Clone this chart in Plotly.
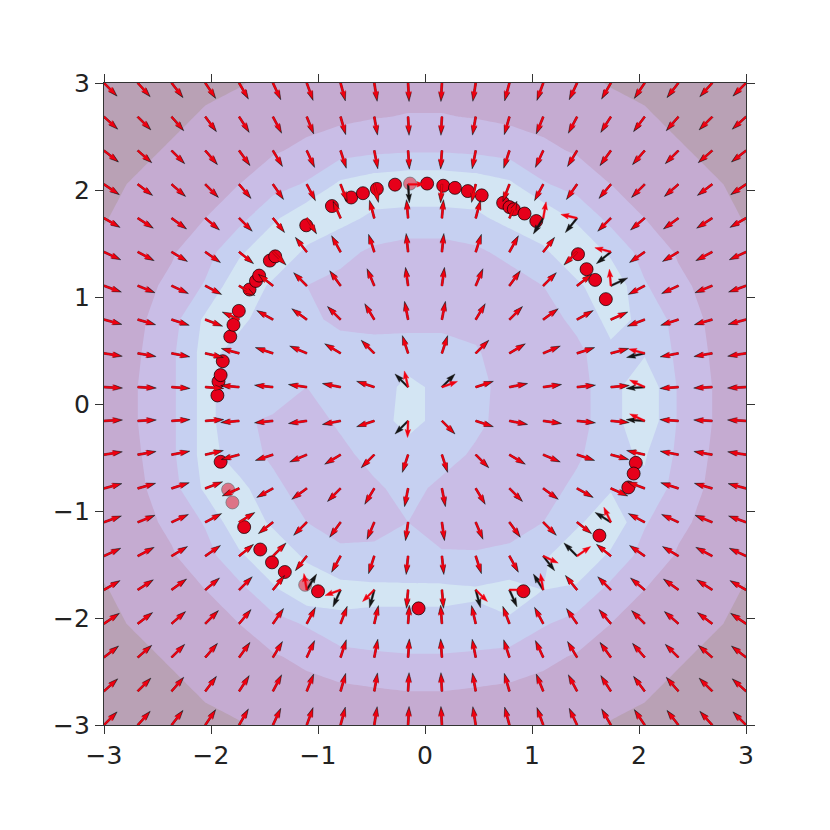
import numpy as np
import plotly.graph_objects as go

# node positions of the arrow grid / contour grid (same for x and y)
grid = [-3.0, -2.684, -2.368, -2.053, -1.737, -1.421, -1.105, -0.789, -0.474, -0.158,
        0.158, 0.474, 0.789, 1.105, 1.421, 1.737, 2.053, 2.368, 2.684, 3.0]

# black arrows, direction in degrees; rows go from y=3 (top) down to y=-3
true_angle = [
    [-45, -48, -52, -56, -60, -65, -70, -75, -81, -87, -93, -99, -105, -110, -115, -120, -124, -128, -132, -135],
    [-42, -45, -49, -53, -57, -62, -68, -74, -80, -87, -93, -100, -106, -112, -118, -123, -127, -131, -135, -138],
    [-38, -41, -45, -49, -54, -59, -65, -72, -79, -86, -94, -101, -108, -115, -121, -126, -131, -135, -139, -142],
    [-34, -37, -41, -45, -50, -55, -62, -69, -77, -86, -94, -103, -111, -118, -125, -130, -135, -139, -143, -146],
    [-30, -33, -36, -40, -45, -51, -58, 114, 105, 95, 85, 75, 66, -122, -129, -135, -140, -144, -147, -150],
    [-25, -28, -31, -35, -39, -45, 128, 119, 108, 96, 84, 72, 61, 52, -135, -141, -145, -149, -152, -155],
    [-20, -22, -25, -28, -32, 142, 135, 126, 113, 98, 82, 67, 54, 45, 38, 25, -152, -155, -158, -160],
    [-15, -16, -18, -21, 156, 151, 144, 135, 121, 101, 79, 59, 45, 36, 29, 24, -159, -162, -164, -165],
    [-9, -10, -11, -13, 165, 162, 157, 149, 135, 108, 72, 45, 31, 23, 18, 15, -167, -169, -170, -171],
    [-3, -3, -4, -4, 175, 174, 172, 169, 162, 135, 45, 18, 11, 8, 6, 5, -176, -176, -177, -177],
    [3, 3, 4, 4, -175, -174, -172, -169, -162, -135, -45, -18, -11, -8, -6, -5, 176, 176, 177, 177],
    [9, 10, 11, 13, -165, -162, -157, -149, -135, -108, -72, -45, -31, -23, -18, -15, 167, 169, 170, 171],
    [15, 16, 18, 21, -156, -151, -144, -135, -121, -101, -79, -59, -45, -36, -29, -24, 159, 162, 164, 165],
    [20, 22, 25, 28, 32, -142, -135, -126, -113, -98, -82, -67, -54, -45, -38, 148, 152, 155, 158, 160],
    [25, 28, 31, 35, 39, 45, -128, -119, -108, -96, -84, -72, -61, -52, 135, 141, 145, 149, 152, 155],
    [30, 33, 36, 40, 45, 51, 58, -114, -105, -95, -85, -75, -66, 122, 129, 135, 140, 144, 147, 150],
    [34, 37, 41, 45, 50, 55, 62, 69, 77, 86, 94, 103, 111, 118, 125, 130, 135, 139, 143, 146],
    [38, 41, 45, 49, 54, 59, 65, 72, 79, 86, 94, 101, 108, 115, 121, 126, 131, 135, 139, 142],
    [42, 45, 49, 53, 57, 62, 68, 74, 80, 87, 93, 100, 106, 112, 118, 123, 127, 131, 135, 138],
    [45, 48, 52, 56, 60, 65, 70, 75, 81, 87, 93, 99, 105, 110, 115, 120, 124, 128, 132, 135],
]

# red arrows follow the black ones except at these (row, col) cells
red_changes = {
    (3, 9): 0, (4, 13): 80, (4, 14): 167, (5, 15): 165, (6, 15): 95,
    (8, 16): 165, (9, 9): 103, (9, 10): 20, (9, 16): 155, (10, 9): -92,
    (10, 16): 155, (13, 15): 115, (14, 13): -25, (14, 14): 35,
    (15, 6): 100, (15, 7): -160, (15, 8): -135, (15, 11): -45,
    (15, 12): 0, (15, 13): 100,
}

# filled contour band value at each node, rows from top (y=3) to bottom
level = [
    [5.0, 4.7, 4.5, 4.2, 4.05, 3.8, 3.7, 3.5, 3.5, 3.4, 3.4, 3.5, 3.5, 3.7, 3.8, 4.05, 4.2, 4.5, 4.7, 5.0],
    [4.7, 4.4, 4.2, 3.9, 3.7, 3.5, 3.3, 3.2, 3.05, 2.95, 2.95, 3.05, 3.2, 3.3, 3.5, 3.7, 3.9, 4.2, 4.4, 4.7],
    [4.5, 4.2, 3.9, 3.6, 3.3, 3.1, 2.8, 2.4, 2.2, 2.1, 2.1, 2.2, 2.4, 2.8, 3.1, 3.3, 3.6, 3.9, 4.2, 4.5],
    [4.2, 3.9, 3.6, 3.3, 3.0, 2.4, 1.9, 0.8, 0.4, 0.2, 0.2, 0.4, 0.8, 1.9, 2.4, 3.0, 3.3, 3.6, 3.9, 4.2],
    [4.05, 3.7, 3.3, 3.0, 2.3, 1.2, 0.2, 0.7, 1.2, 1.4, 1.4, 1.2, 0.7, 0.2, 1.2, 2.3, 3.0, 3.3, 3.7, 4.05],
    [3.8, 3.5, 3.1, 2.4, 1.2, 0.1, 1.2, 1.7, 2.2, 2.4, 2.4, 2.2, 1.7, 1.2, 0.1, 1.2, 2.4, 3.1, 3.5, 3.8],
    [3.7, 3.3, 2.8, 1.9, 0.2, 1.2, 2.0, 2.3, 2.5, 2.6, 2.6, 2.5, 2.5, 2.0, 1.2, 0.2, 1.9, 2.8, 3.3, 3.7],
    [3.5, 3.2, 2.4, 0.8, 0.7, 1.7, 1.8, 2.2, 2.4, 2.4, 2.4, 2.3, 2.5, 2.5, 1.7, 0.7, 1.2, 2.4, 3.2, 3.5],
    [3.5, 3.1, 2.2, 0.6, 1.5, 1.6, 1.6, 1.6, 1.5, 1.4, 1.4, 1.9, 2.5, 2.5, 2.3, 1.2, 1.1, 2.2, 3.1, 3.5],
    [3.4, 3.0, 2.2, 0.6, 1.9, 1.6, 2.0, 1.5, 1.4, 0.8, 1.2, 1.6, 2.5, 2.5, 2.4, 1.4, 0.2, 2.1, 3.0, 3.4],
    [3.4, 3.0, 2.2, 0.6, 1.9, 2.1, 2.5, 1.8, 1.4, 0.7, 1.3, 1.7, 2.5, 2.5, 2.4, 1.4, 0.2, 2.1, 3.0, 3.4],
    [3.5, 3.1, 2.2, 0.6, 1.5, 2.2, 2.5, 2.3, 1.6, 1.4, 1.5, 2.2, 2.5, 2.5, 2.2, 1.2, 0.9, 2.2, 3.1, 3.5],
    [3.5, 3.2, 2.4, 0.8, 0.7, 1.7, 2.5, 2.5, 2.2, 1.6, 2.3, 2.5, 2.5, 2.5, 1.7, 1.1, 1.2, 2.4, 3.2, 3.5],
    [3.7, 3.3, 2.8, 1.9, 0.2, 1.2, 2.0, 2.5, 2.4, 2.0, 2.4, 2.5, 2.5, 2.0, 1.2, 0.2, 1.9, 2.8, 3.3, 3.7],
    [3.8, 3.5, 3.1, 2.4, 1.2, 0.1, 1.2, 1.7, 1.7, 1.8, 1.9, 1.9, 1.7, 1.2, 0.1, 1.2, 2.4, 3.1, 3.5, 3.8],
    [4.05, 3.7, 3.3, 3.0, 2.3, 1.2, 0.2, 0.7, 0.8, 0.8, 0.8, 0.9, 0.7, 1.0, 1.2, 2.3, 3.0, 3.3, 3.7, 4.05],
    [4.2, 3.9, 3.6, 3.3, 3.0, 2.4, 1.9, 1.2, 1.2, 1.2, 1.2, 1.2, 1.1, 1.9, 2.4, 3.0, 3.3, 3.6, 3.9, 4.2],
    [4.5, 4.2, 3.9, 3.6, 3.3, 3.1, 2.8, 2.4, 2.2, 2.1, 2.1, 2.2, 2.4, 2.8, 3.1, 3.3, 3.6, 3.9, 4.2, 4.5],
    [4.7, 4.4, 4.2, 3.9, 3.7, 3.5, 3.3, 3.2, 3.1, 3.0, 3.0, 3.1, 3.2, 3.3, 3.5, 3.7, 3.9, 4.2, 4.4, 4.7],
    [5.0, 4.7, 4.5, 4.2, 4.05, 3.8, 3.7, 3.5, 3.5, 3.4, 3.4, 3.5, 3.5, 3.7, 3.8, 4.05, 4.2, 4.5, 4.7, 5.0],
]

band_colors = ["#d3e5f3", "#c6d0f1", "#c9bde6", "#c5abd1", "#b9a1b5"]

# samples on the ring
pts_x = [-0.87, -0.69, -0.58, -0.45, -0.28, 0.02, 0.17, 0.28, 0.40, 0.53, 0.73, 0.79, 0.83, 0.93, 1.04,
         1.43, 1.51, 1.59, 1.69, 1.97, 1.95, 1.90, 1.63, 0.92,
         -0.06, -1.00, -1.31, -1.43, -1.54, -1.69,
         -1.91, -1.94, -1.93, -1.91, -1.89, -1.82, -1.79, -1.74, -1.64, -1.58, -1.55, -1.45, -1.40, -1.11]
pts_y = [1.85, 1.93, 1.97, 2.01, 2.05, 2.06, 2.04, 2.02, 1.99, 1.95, 1.88, 1.84, 1.82, 1.78, 1.71,
         1.40, 1.26, 1.16, 0.98, -0.55, -0.65, -0.78, -1.23, -1.75,
         -1.91, -1.75, -1.57, -1.48, -1.36, -1.15,
         -0.54, 0.08, 0.21, 0.27, 0.40, 0.63, 0.74, 0.87, 1.07, 1.15, 1.20, 1.34, 1.38, 1.67]
faded_x = [-0.14, -1.84, -1.80, -1.12]
faded_y = [2.06, -0.80, -0.92, -1.69]

# arrow outline (matplotlib quiver-like), along / across the direction, data units
L, w2, hl, hal, hw = 0.155, 0.0085, 0.075, 0.066, 0.026
shape = [(0, -w2), (L - hal, -w2), (L - hl, -hw), (L, 0), (L - hl, hw), (L - hal, w2), (0, w2), (0, -w2)]


def arrow_path(angles, stretch=1.0):
    xs, ys = [], []
    for r, row in enumerate(angles):
        y0 = grid[19 - r]
        for c, a in enumerate(row):
            x0 = grid[c]
            t = np.radians(a)
            ux, uy = np.cos(t), np.sin(t)
            for s, n in shape:
                s = s * stretch
                xs.append(x0 + s * ux - n * uy)
                ys.append(y0 + s * uy + n * ux)
            xs.append(None)
            ys.append(None)
    return xs, ys


red_angle = [row[:] for row in true_angle]
for (r, c), a in red_changes.items():
    red_angle[r][c] = a

cs = []
for k, col in enumerate(band_colors):
    cs += [[k / 5, col], [(k + 1) / 5, col]]

fig = go.Figure()
fig.add_trace(go.Contour(
    x=grid, y=grid, z=level[::-1], zmin=0, zmax=5, colorscale=cs, showscale=False,
    contours=dict(start=1, end=4, size=1, coloring="fill", showlines=False),
    line=dict(width=0, smoothing=0), hoverinfo="skip",
))
fig.add_trace(go.Scatter(x=pts_x, y=pts_y, mode="markers",
                         marker=dict(size=13, color="#e6001a", line=dict(color="black", width=0.7))))
fig.add_trace(go.Scatter(x=faded_x, y=faded_y, mode="markers", opacity=0.5,
                         marker=dict(size=13, color="#e6001a", line=dict(color="black", width=0.7))))

# black arrows a touch longer so their tips show past the red ones
bx, by = arrow_path(true_angle, stretch=1.12)
fig.add_trace(go.Scatter(x=bx, y=by, mode="lines", fill="toself", fillcolor="#151515",
                         line=dict(width=0.4, color="#151515"), hoverinfo="skip"))
rx, ry = arrow_path(red_angle)
fig.add_trace(go.Scatter(x=rx, y=ry, mode="lines", fill="toself", fillcolor="#f00010",
                         line=dict(width=0.4, color="#f00010"), hoverinfo="skip"))

ticks = [-3, -2, -1, 0, 1, 2, 3]
labels = [str(t).replace("-", "\u2212") for t in ticks]
axis = dict(range=[-3, 3], tickvals=ticks, ticktext=labels, ticks="outside", ticklen=8,
            tickwidth=1, tickcolor="#333", showline=True, linecolor="#333", linewidth=1.2,
            mirror="ticks", showgrid=False, zeroline=False,
            tickfont=dict(family="DejaVu Sans", size=25, color="#222"))

fig.update_layout(
    width=814, height=814, showlegend=False,
    margin=dict(l=96, r=76, t=75, b=97),
    paper_bgcolor="white", plot_bgcolor="white",
    xaxis=axis, yaxis=dict(axis, scaleanchor="x"),
)
fig.write_html("out.html")
